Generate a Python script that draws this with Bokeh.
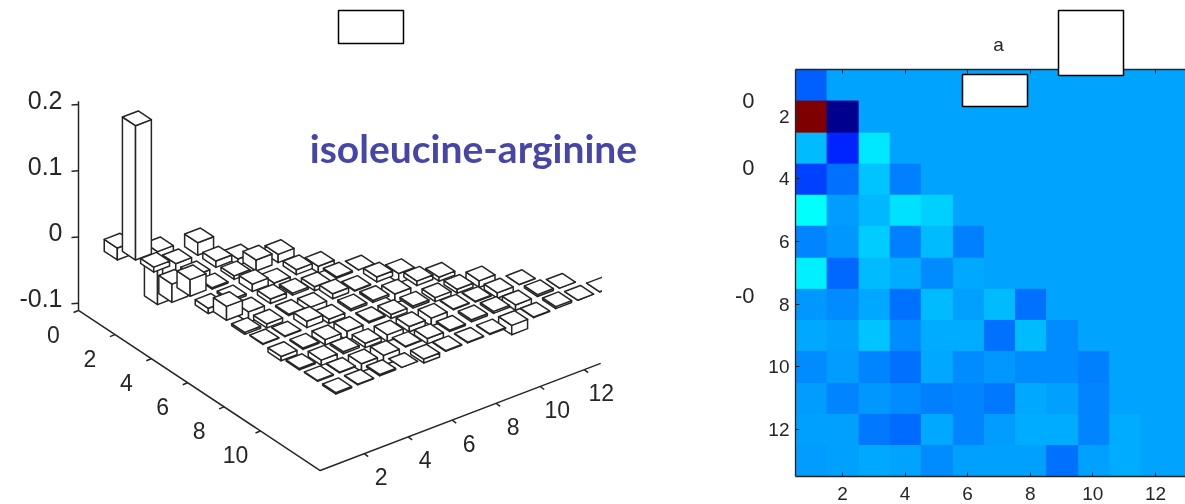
from bokeh.plotting import figure
from bokeh.embed import file_html
from bokeh.resources import INLINE
from bokeh.models import Range1d, FixedTicker, LinearAxis, LinearColorMapper
from bokeh.core.properties import value
import numpy as np

# Lower-triangular matrix, row by row (rows 1..13); the rest of each row is 0
row_01 = [-0.018]
row_02 = [0.203, -0.080]
row_03 = [0.0075, -0.0345, 0.019]
row_04 = [-0.0275, -0.014, 0.0096, -0.010]
row_05 = [0.025, -0.002, 0.0054, 0.0166, 0.0124]
row_06 = [-0.008, -0.003, 0.011, -0.010, 0.0075, -0.010]
row_07 = [0.021, -0.016, 0.0068, 0.003, -0.006, 0.002, 0.0]
row_08 = [-0.003, -0.006, 0.002, -0.014, 0.0075, -0.001, 0.0075, -0.014]
row_09 = [0.001, -0.001, 0.0096, -0.0065, 0.003, 0.003, -0.014, 0.0068, -0.006]
row_10 = [-0.0065, -0.002, -0.008, -0.014, 0.002, -0.006, -0.003, -0.006, -0.006, -0.010]
row_11 = [-0.002, -0.008, -0.003, -0.0065, -0.010, -0.008, -0.012, 0.001, -0.001, -0.008, 0.0]
row_12 = [-0.001, -0.001, -0.012, -0.015, 0.001, -0.008, -0.002, 0.003, 0.003, -0.008, 0.003, 0.0]
row_13 = [-0.002, -0.001, 0.002, 0.0, -0.006, -0.001, -0.001, -0.001, -0.014, -0.001, 0.003, 0.0, 0.0]
rows = [row_01, row_02, row_03, row_04, row_05, row_06, row_07, row_08, row_09, row_10, row_11, row_12, row_13]

z_ticks = [-0.1, 0, 0.1, 0.2]
z_labels = ["-0.1", "0", "0.1", "0.2"]
y_ticks_3d = [0, 2, 4, 6, 8, 10]
x_ticks_3d = [2, 4, 6, 8, 10, 12]
heat_ticks = [2, 4, 6, 8, 10, 12]
annotation_text = "isoleucine-arginine"
heat_title = "a"

INK = "#262626"
Z0, ZMAX3D = -0.111, 0.205


def project(x, y, z):
    return (78 + 22.0 * x + 18.2 * y,
            236.5 - z * 662 - 8.4 * x + 12.05 * y)


def jet(v):
    r = np.interp(v, [0, .375, .625, .875, 1], [0, 0, 255, 255, 128])
    g = np.interp(v, [0, .125, .375, .625, .875, 1], [0, 0, 255, 255, 0, 0])
    b = np.interp(v, [0, .125, .375, .625, .875, 1], [143, 255, 255, 0, 0, 0])
    return "#%02x%02x%02x" % (int(r), int(g), int(b))


JET = [jet(i / 255) for i in range(256)]

p = figure(width=1185, height=504, x_range=Range1d(0, 1185), y_range=Range1d(504, 0),
           x_axis_location=None, y_axis_location=None, toolbar_location=None,
           output_backend="svg", min_border=0, outline_line_color=None)
p.grid.visible = False

# ---------- left: 3-D bars
XMAX3D, YMAX3D = 12.75, 13.28
corner = project(0, 0, Z0)
front = project(0, YMAX3D, Z0)
right = project(XMAX3D, YMAX3D, Z0)
top = project(0, 0, ZMAX3D)
xs, ys = [[corner[0], top[0]], [corner[0], front[0], right[0]]], [[corner[1], top[1]], [corner[1], front[1], right[1]]]
for t in z_ticks:
    a = project(0, 0, t)
    xs.append([a[0], a[0] - 7]); ys.append([a[1], a[1] + 0.5])
for t in y_ticks_3d:
    a = project(0, t, Z0)
    xs.append([a[0], a[0] - 5]); ys.append([a[1], a[1] + 2])
for t in x_ticks_3d:
    a = project(t, YMAX3D, Z0)
    xs.append([a[0], a[0] + 4]); ys.append([a[1], a[1] + 3])
p.multi_line(xs, ys, line_color=INK, line_width=1.5)

W = 0.72
px, py = [], []
for c in range(13, 0, -1):
    for r in range(1, 14):
        if c > r:
            continue
        vals = rows[r - 1]
        z = vals[c - 1] if c <= len(vals) else 0.0
        x0, x1, y0, y1 = c - W / 2, c + W / 2, r - W / 2, r + W / 2
        zt, zb = max(z, 0), min(z, 0)
        for face in ([(x0, y0, zt), (x0, y1, zt), (x0, y1, zb), (x0, y0, zb)],
                     [(x0, y1, zt), (x1, y1, zt), (x1, y1, zb), (x0, y1, zb)],
                     [(x0, y0, zt), (x1, y0, zt), (x1, y1, zt), (x0, y1, zt)]):
            pts = [project(*q) for q in face]
            px.append([q[0] for q in pts]); py.append([q[1] for q in pts])
p.patches(px, py, fill_color="white", line_color=INK, line_width=1.5, line_join="round")
p.quad(left=601.5, right=640, top=272, bottom=305, fill_color="white", line_color=None)

font = value("Liberation Sans")
zx = [62] * 4
zy = [project(0, 0, t)[1] - 5 for t in z_ticks]
p.text(zx, zy, text=z_labels, text_align="right", text_baseline="middle",
       text_font=font, text_font_size="25px", text_color=INK)
yl = [project(0, t, Z0) for t in y_ticks_3d]
p.text([a[0] - 25 for a in yl], [a[1] + 24 for a in yl], text=[str(t) for t in y_ticks_3d],
       text_align="center", text_baseline="middle", text_font=font, text_font_size="23px", text_color=INK)
xl = [project(t, YMAX3D, Z0) for t in x_ticks_3d]
p.text([a[0] + 17 for a in xl], [a[1] + 23 for a in xl], text=[str(t) for t in x_ticks_3d],
       text_align="center", text_baseline="middle", text_font=font, text_font_size="23px", text_color=INK)
p.text([473], [147], text=[annotation_text], text_align="center", text_baseline="middle",
       text_font=value("Lato"), text_font_style="bold", text_font_size="39px", text_color="#4646a8")
# labels of a neighbouring panel
p.text([754, 754, 754], [100, 167, 295], text=["0", "0", "-0"], text_align="right", text_baseline="middle",
       text_font=font, text_font_size="22px", text_color=INK)

# ---------- right: heat map, on ranges of its own
UX, UY = 31.3, 31.27
p.extra_x_ranges["heat"] = Range1d(0.5 - 795 / UX, 0.5 + (1185 - 795) / UX)
p.extra_y_ranges["heat"] = Range1d(0.5 + (504 - 69) / UY, 0.5 - 69 / UY)
grid = np.zeros((13, 13))
for i, vals in enumerate(rows):
    grid[i, :len(vals)] = vals
p.image(image=[grid], x=0.5, y=0.5, dw=13, dh=13, x_range_name="heat", y_range_name="heat",
        color_mapper=LinearColorMapper(palette=JET, low=-0.08, high=0.2))


def heat_axis(side, loc, labelled, bounds):
    ax = LinearAxis(ticker=FixedTicker(ticks=heat_ticks), x_range_name="heat", y_range_name="heat",
                    fixed_location=loc, bounds=bounds, major_tick_in=4, major_tick_out=0,
                    minor_tick_line_color=None, axis_line_color=INK, major_tick_line_color=INK,
                    axis_line_width=1.3, major_label_text_font="Liberation Sans",
                    major_label_text_font_size="19px", major_label_text_color=INK if labelled else None,
                    major_label_standoff=11 if side == "below" else 6)
    p.add_layout(ax, side)


heat_axis("below", 13.5, True, (0.5, 13.0))
heat_axis("above", 0.5, False, (0.5, 13.0))
heat_axis("left", 0.5, True, (0.5, 13.5))

p.text([998], [44], text=[heat_title], text_align="center", text_baseline="middle",
       text_font=font, text_font_size="19px", text_color=INK)

# ---------- blank white boxes
p.quad(left=[338, 1058, 962], right=[403, 1123, 1027], top=[10, 10, 74], bottom=[43, 75, 106],
       fill_color="white", line_color="black", line_width=1.5, level="overlay")

p.styles = {"filter": "blur(0.45px)"}
open("out.html", "w").write(file_html(p, INLINE))
